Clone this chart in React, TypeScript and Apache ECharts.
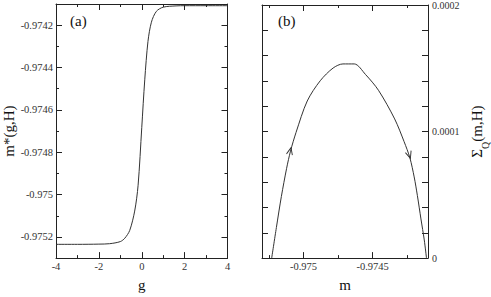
import React, { useEffect, useRef } from "react";
import * as echarts from "echarts";

// Panel (a): m*(g,H) versus g
const gValues = [-4, -3, -2, -1.5, -1.0, -0.79, -0.56, -0.33, -0.17, 0, 0.14, 0.29, 0.45, 0.68, 1.0, 1.6, 2, 3, 4];
const mStarValues = [
  -0.975235, -0.975235, -0.975234, -0.975232, -0.975222, -0.975206, -0.975169, -0.975078, -0.974956,
  -0.974684, -0.974458, -0.974277, -0.974186, -0.974135, -0.974115, -0.974109, -0.974108, -0.974108, -0.974108,
];
const aXTicks = [-4, -2, 0, 2, 4];
const aYMajor = [-0.9752, -0.975, -0.9748, -0.9746, -0.9744, -0.9742];
const aYMinor = [-0.9753, -0.9751, -0.9749, -0.9747, -0.9745, -0.9743, -0.9741];

// Panel (b): Sigma_Q(m,H) versus m
const mValues = [
  -0.97523, -0.975196, -0.97516, -0.975122, -0.975094, -0.975054, -0.974973, -0.974879, -0.974786,
  -0.974715, -0.974633, -0.974552, -0.974458, -0.974341, -0.974273, -0.974231, -0.9742, -0.974177,
  -0.974151, -0.974127, -0.974111,
];
const sigmaValues = [
  0, 0.00002415, 0.00004868, 0.00007094, 0.00008453, 0.00009925, 0.00012415, 0.00014015, 0.00015019,
  0.00015343, 0.00015343, 0.00014513, 0.0001326, 0.00010996, 0.00009208, 0.00007925, 0.00006415, 0.00004958,
  0.00003094, 0.00001434, 0,
];
const bXMajor = [-0.975, -0.9745];
const bXMinor = [-0.97525, -0.97475, -0.97425];
const bYLabels = [0, 0.0001, 0.0002];
const arrowUp = [-0.975096, 0.00008453];
const arrowDown = [-0.974235, 0.00008151];

const FONT = "'Liberation Serif', 'Times New Roman', serif";
const LINE = "#222";
const TEXT = "#333";

const fmt = (v: number) => String(Number(Number(v).toFixed(6)));

export default function App() {
  const ref = useRef<HTMLDivElement>(null);
  useEffect(() => {
    document.body.style.margin = "0";
    const chart = echarts.init(ref.current!, null, { renderer: "svg" });

    const axisLine = { show: true, onZero: false, lineStyle: { color: LINE, width: 1 } };
    const noLine = { show: false, onZero: false };
    const label = (show: boolean, margin: number, size = 10.5, custom?: number[]) => ({
      show,
      margin,
      color: TEXT,
      fontFamily: FONT,
      fontSize: size,
      formatter: fmt,
      ...(custom ? { customValues: custom } : {}),
    });
    const tick = (len: number, custom?: number[]) => ({
      show: true,
      inside: true,
      length: len,
      lineStyle: { color: LINE, width: 1 },
      ...(custom ? { customValues: custom } : {}),
    });
    const nameStyle = { fontFamily: FONT, fontSize: 15, color: "#111" };

    const aY = (pos: string, major: boolean, withName: boolean) => ({
      type: "value",
      gridIndex: 0,
      position: pos,
      min: -0.9753,
      max: -0.9741,
      axisLine: major ? axisLine : noLine,
      axisTick: tick(major ? 6 : 3, major ? aYMajor : aYMinor),
      axisLabel: major && pos === "left" ? label(true, 3, 10.5, aYMajor) : { show: false },
      splitLine: { show: false },
      ...(withName
        ? { name: "m*(g,H)", nameLocation: "middle", nameRotate: 90, nameGap: 40, nameTextStyle: nameStyle }
        : {}),
    });
    const aX = (pos: string, withLabels: boolean) => ({
      type: "value",
      gridIndex: 0,
      position: pos,
      min: -4,
      max: 4,
      interval: 2,
      axisLine,
      axisTick: tick(6),
      minorTick: { show: true, splitNumber: 2, length: 3, lineStyle: { color: LINE, width: 1 } },
      axisLabel: withLabels ? { ...label(true, 3), customValues: aXTicks } : { show: false },
      splitLine: { show: false },
      minorSplitLine: { show: false },
      ...(withLabels ? { name: "g", nameLocation: "middle", nameGap: 3, nameTextStyle: nameStyle } : {}),
    });
    const bX = (pos: string, major: boolean, withName: boolean) => ({
      type: "value",
      gridIndex: 1,
      position: pos,
      min: -0.9753,
      max: -0.9741,
      axisLine: major ? axisLine : noLine,
      axisTick: tick(major ? 6 : 3, major ? bXMajor : bXMinor),
      axisLabel: major && pos === "bottom" ? label(true, 3, 10.5, bXMajor) : { show: false },
      splitLine: { show: false },
      ...(withName ? { name: "m", nameLocation: "middle", nameGap: 3, nameTextStyle: nameStyle } : {}),
    });
    const bY = (pos: string, withLabels: boolean) => ({
      type: "value",
      gridIndex: 1,
      position: pos,
      min: 0,
      max: 0.0002,
      interval: 0.00002,
      axisLine,
      axisTick: tick(6),
      axisLabel: withLabels ? label(true, 4, 10, bYLabels) : { show: false },
      splitLine: { show: false },
      ...(withLabels
        ? {
            name: "{s|Σ}{q|Q}{s|(m,H)}",
            nameLocation: "middle",
            nameRotate: 90,
            nameGap: 40,
            nameTextStyle: {
              ...nameStyle,
              rich: {
                s: { fontFamily: FONT, fontSize: 15, color: "#111", lineHeight: 18 },
                q: { fontFamily: FONT, fontSize: 10, color: "#111", verticalAlign: "bottom", lineHeight: 18, padding: [0, 0, -4, 0] },
              },
            },
          }
        : {}),
    });

    const arrowStyle = { color: "none", borderColor: "#333", borderWidth: 1 };

    chart.setOption({
      animation: false,
      backgroundColor: "#fff",
      textStyle: { fontFamily: FONT },
      grid: [
        { left: 56, top: 4, width: 171.5, height: 265 },
        { left: 262, top: 4, width: 171, height: 265 },
      ],
      xAxis: [
        aX("bottom", true),
        aX("top", false),
        bX("bottom", true, true),
        bX("bottom", false, false),
        bX("top", true, false),
        bX("top", false, false),
      ],
      yAxis: [
        aY("left", true, true),
        aY("left", false, false),
        aY("right", true, false),
        aY("right", false, false),
        bY("right", true),
        bY("left", false),
      ],
      series: [
        {
          type: "line",
          xAxisIndex: 0,
          yAxisIndex: 0,
          data: gValues.map((g, i) => [g, mStarValues[i]]),
          smooth: 0.3,
          showSymbol: false,
          symbol: "none",
          lineStyle: { color: "#333", width: 1 },
        },
        {
          type: "line",
          xAxisIndex: 2,
          yAxisIndex: 4,
          data: mValues.map((m, i) => [m, sigmaValues[i]]),
          smooth: 0.3,
          showSymbol: false,
          symbol: "none",
          lineStyle: { color: "#333", width: 1 },
          markPoint: {
            silent: true,
            label: { show: false },
            data: [
              { coord: arrowUp, symbol: "path://M0,10L5,0L10,10", symbolSize: [6, 7], symbolRotate: -13, itemStyle: arrowStyle },
              { coord: arrowDown, symbol: "path://M0,0L5,10L10,0", symbolSize: [6, 7], symbolRotate: 18, itemStyle: arrowStyle },
            ],
          },
        },
      ],
      graphic: [
        { type: "text", left: 70, top: 13, style: { text: "(a)", fontFamily: FONT, fontSize: 15, fill: "#111" } },
        { type: "text", left: 278, top: 13, style: { text: "(b)", fontFamily: FONT, fontSize: 15, fill: "#111" } },
      ],
    });
    return () => chart.dispose();
  }, []);
  return <div ref={ref} style={{ position: "absolute", left: 0, top: 0, width: 491, height: 297 }} />;
}
